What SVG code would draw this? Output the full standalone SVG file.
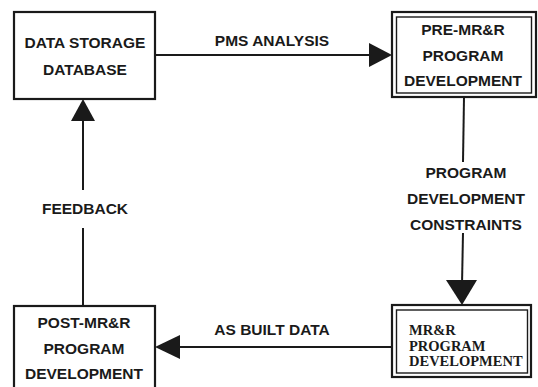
<svg xmlns="http://www.w3.org/2000/svg" width="538" height="387" viewBox="0 0 538 387">
<style>
.box{fill:#fff;stroke:#1a1a1a;stroke-width:2.2}
.inner{fill:none;stroke:#1a1a1a;stroke-width:1.4}
.ln{stroke:#1a1a1a;stroke-width:2;fill:none}
.ah{fill:#1a1a1a}
.t{font-family:"Liberation Sans",Arial,sans-serif;font-weight:bold;font-size:15.5px;fill:#1a1a1a;text-anchor:middle}
.s{font-family:"Liberation Serif","Times New Roman",serif;font-weight:bold;font-size:14.5px;fill:#1a1a1a}
</style>
<rect width="538" height="387" fill="#fff"/>
<g id="connectors">
<line class="ln" x1="155" y1="55" x2="372" y2="55"/>
<polygon class="ah" points="392,55 369,43 369,67"/>
<text class="t" x="272" y="46">PMS ANALYSIS</text>
<line class="ln" x1="464" y1="97" x2="463" y2="162"/>
<line class="ln" x1="463" y1="233" x2="462" y2="285"/>
<polygon class="ah" points="446,280 477,280 462,305"/>
<text class="t" x="466" y="178">PROGRAM</text>
<text class="t" x="466" y="204">DEVELOPMENT</text>
<text class="t" x="466" y="230">CONSTRAINTS</text>
<line class="ln" x1="392" y1="347" x2="175" y2="347"/>
<polygon class="ah" points="155,347 180,335 180,359"/>
<text class="t" x="272" y="335">AS BUILT DATA</text>
<line class="ln" x1="83" y1="306" x2="83" y2="228"/>
<line class="ln" x1="83" y1="190" x2="83" y2="118"/>
<polygon class="ah" points="83,99 71,121 95,121"/>
<text class="t" x="85" y="214">FEEDBACK</text>
</g>
<g id="data-storage">
<rect class="box" x="14" y="12" width="141" height="87"/>
<text class="t" x="85" y="48">DATA STORAGE</text>
<text class="t" x="85" y="75">DATABASE</text>
</g>
<g id="pre-mrr">
<rect class="box" x="392" y="12" width="144" height="85"/>
<rect class="inner" x="396.5" y="17" width="135" height="76"/>
<text class="t" x="463" y="35">PRE-MR&amp;R</text>
<text class="t" x="463" y="61">PROGRAM</text>
<text class="t" x="463" y="86">DEVELOPMENT</text>
</g>
<g id="mrr">
<rect class="box" x="392" y="305" width="139" height="72"/>
<rect class="inner" x="396.5" y="310" width="131" height="63"/>
<text class="s" x="409" y="335">MR&amp;R</text>
<text class="s" x="409" y="351">PROGRAM</text>
<text class="s" x="409" y="366">DEVELOPMENT</text>
</g>
<g id="post-mrr">
<rect class="box" x="14" y="306" width="141" height="90"/>
<text class="t" x="84" y="328">POST-MR&amp;R</text>
<text class="t" x="84" y="354">PROGRAM</text>
<text class="t" x="84" y="379">DEVELOPMENT</text>
</g>
</svg>
